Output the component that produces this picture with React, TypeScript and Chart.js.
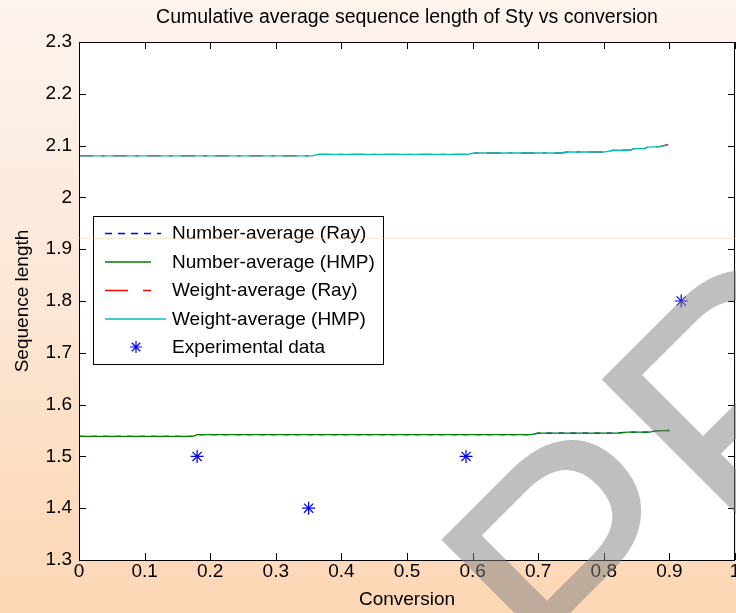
import React, { useEffect, useRef } from "react";
import { Chart, registerables } from "chart.js";

Chart.register(...registerables);

const TITLE = "Cumulative average sequence length of Sty vs conversion";
const X_LABEL = "Conversion";
const Y_LABEL = "Sequence length";

// Number-average curves (Ray / HMP)
const numConv = [0, 0.174, 0.18, 0.689, 0.7, 0.82, 0.836, 0.87, 0.879, 0.9];
const numRay = [1.5386, 1.5386, 1.5419, 1.5419, 1.545, 1.545, 1.547, 1.547, 1.5494, 1.55];
const numHMP = [1.5386, 1.5386, 1.5419, 1.5419, 1.545, 1.545, 1.547, 1.547, 1.5494, 1.55];

// Weight-average curves (Ray / HMP)
const wConv = [0, 0.355, 0.365, 0.592, 0.602, 0.735, 0.745, 0.8, 0.815, 0.84, 0.846, 0.862, 0.867, 0.885, 0.898];
const wRay = [2.08, 2.08, 2.083, 2.083, 2.0857, 2.0857, 2.0876, 2.0876, 2.091, 2.091, 2.094, 2.094, 2.097, 2.098, 2.1025];
const wHMP = [2.08, 2.08, 2.083, 2.083, 2.0857, 2.0857, 2.0876, 2.0876, 2.091, 2.091, 2.094, 2.094, 2.097, 2.098, 2.101];

// Experimental data
const expConv = [0.18, 0.35, 0.59, 0.918];
const expLen = [1.5, 1.4, 1.5, 1.8];

const X_MIN = 0;
const X_MAX = 1;
const Y_MIN = 1.3;
const Y_MAX = 2.3;
const TICK_STEP = 0.1;

const FONT = "'Liberation Sans', Arial, Helvetica, sans-serif";

const pts = (xs: number[], ys: number[]) => xs.map((x, i) => ({ x, y: ys[i] }));

const fmt = (v: number) => String(Number(Number(v).toFixed(1)));

const bgPlugin = {
  id: "bgPlugin",
  beforeDraw(chart: any) {
    const { ctx, width, height, chartArea } = chart;
    ctx.save();
    const g = ctx.createLinearGradient(0, 0, 0, height);
    g.addColorStop(0, "#fdf4ee");
    g.addColorStop(0.45, "#fce8d8");
    g.addColorStop(0.85, "#fcdbbd");
    g.addColorStop(1, "#fcd7b5");
    ctx.fillStyle = g;
    ctx.fillRect(0, 0, width, height);
    ctx.fillStyle = "#ffffff";
    ctx.fillRect(chartArea.left, chartArea.top, chartArea.right - chartArea.left, chartArea.bottom - chartArea.top);
    ctx.restore();
  },
};

const frameLegendPlugin = {
  id: "frameLegendPlugin",
  afterDraw(chart: any) {
    const { ctx, chartArea } = chart;
    const xs = chart.scales.x;
    const ys = chart.scales.y;
    const L = chartArea.left, R = chartArea.right, T = chartArea.top, B = chartArea.bottom;
    const tl = 7;
    ctx.save();

    // ticks
    ctx.strokeStyle = "#000000";
    ctx.lineWidth = 1;
    ctx.beginPath();
    xs.ticks.forEach((t: any) => {
      const px = Math.round(xs.getPixelForValue(t.value)) + 0.5;
      ctx.moveTo(px, B);
      ctx.lineTo(px, B - tl);
      ctx.moveTo(px, T);
      ctx.lineTo(px, T + tl);
    });
    ys.ticks.forEach((t: any) => {
      const py = Math.round(ys.getPixelForValue(t.value)) + 0.5;
      ctx.moveTo(L, py);
      ctx.lineTo(L + tl, py);
      ctx.moveTo(R, py);
      ctx.lineTo(R - tl, py);
    });
    ctx.stroke();
    // box
    ctx.strokeRect(L + 0.5, T + 0.5, R - L - 1, B - T);

    // legend
    const bx = 93.5, by = 216.5, bw = 290, bh = 148;
    ctx.fillStyle = "#ffffff";
    ctx.fillRect(bx, by, bw, bh);
    ctx.strokeStyle = "#000000";
    ctx.strokeRect(bx, by, bw, bh);
    const lens = [56, 46, 46, 61, 0];
    ctx.font = `19px ${FONT}`;
    ctx.textBaseline = "middle";
    ctx.textAlign = "left";
    chart.data.datasets.forEach((ds: any, i: number) => {
      const cy = 233 + i * 28.5;
      if (ds.showLine === false) {
        const r = 6;
        const cx = 136;
        ctx.strokeStyle = ds.pointBorderColor;
        ctx.lineWidth = 1.2;
        ctx.beginPath();
        ctx.moveTo(cx - r, cy); ctx.lineTo(cx + r, cy);
        ctx.moveTo(cx, cy - r); ctx.lineTo(cx, cy + r);
        const d = r * 0.7071;
        ctx.moveTo(cx - d, cy - d); ctx.lineTo(cx + d, cy + d);
        ctx.moveTo(cx - d, cy + d); ctx.lineTo(cx + d, cy - d);
        ctx.stroke();
      } else {
        ctx.strokeStyle = ds.borderColor;
        ctx.lineWidth = 1.3;
        ctx.setLineDash(ds.legendDash || []);
        ctx.beginPath();
        ctx.moveTo(105, cy + 0.5);
        ctx.lineTo(105 + lens[i], cy + 0.5);
        ctx.stroke();
        ctx.setLineDash([]);
      }
      ctx.fillStyle = "#000000";
      ctx.fillText(ds.label, 172, cy + 1);
    });

    // faint overlay line (slide artefact, above everything in the plot)
    const yo = Math.round(ys.getPixelForValue(1.9215)) + 0.5;
    ctx.strokeStyle = "rgba(252,205,165,0.45)";
    ctx.lineWidth = 1;
    ctx.beginPath();
    ctx.moveTo(L, yo);
    ctx.lineTo(R, yo);
    ctx.stroke();
    ctx.restore();

    // watermark
    ctx.save();
    ctx.translate(587, 725);
    ctx.rotate(-Math.PI / 4);
    ctx.font = `340px ${FONT}`;
    ctx.fillStyle = "rgba(128,128,128,0.5)";
    ctx.textBaseline = "alphabetic";
    ctx.textAlign = "left";
    ctx.fillText("PR", 0, 0);
    ctx.restore();
  },
};

export default function App() {
  const ref = useRef<HTMLCanvasElement>(null);
  useEffect(() => {
    document.body.style.margin = "0";
    const canvas = ref.current;
    if (!canvas) return;
    const chart = new Chart(canvas, {
      type: "line",
      data: {
        datasets: [
          {
            label: "Number-average (Ray)",
            data: pts(numConv, numRay),
            borderColor: "#0000ff",
            borderDash: [6, 6],
            legendDash: [7, 6],
            borderWidth: 1.3,
            pointRadius: 0,
            order: 4,
          } as any,
          {
            label: "Number-average (HMP)",
            data: pts(numConv, numHMP),
            borderColor: "#008000",
            borderWidth: 1.3,
            pointRadius: 0,
            order: 3,
          },
          {
            label: "Weight-average (Ray)",
            data: pts(wConv, wRay),
            borderColor: "#ff0000",
            borderDash: [14, 8, 4, 8],
            legendDash: [23, 15, 8, 15],
            borderWidth: 1.3,
            pointRadius: 0,
            order: 2,
          },
          {
            label: "Weight-average (HMP)",
            data: pts(wConv, wHMP),
            borderColor: "#00bfbf",
            borderWidth: 1.3,
            pointRadius: 0,
            order: 1,
          },
          {
            label: "Experimental data",
            data: pts(expConv, expLen),
            showLine: false,
            borderColor: "#0000ff",
            pointStyle: "star",
            pointRadius: 6.5,
            pointBorderColor: "#0000ff",
            pointBackgroundColor: "#0000ff",
            pointBorderWidth: 1.2,
            order: 0,
          },
        ],
      },
      options: {
        responsive: false,
        animation: false,
        devicePixelRatio: 1,
        layout: { autoPadding: false, padding: { top: 0, left: 0, right: 1, bottom: 0 } },
        plugins: {
          legend: { display: false },
          tooltip: { enabled: false },
          title: {
            display: true,
            text: TITLE,
            fullSize: false,
            color: "#000000",
            font: { family: FONT, size: 19.5, weight: "normal" },
            padding: { top: 6.3, bottom: 12.3 },
          },
        },
        scales: {
          x: {
            type: "linear",
            min: X_MIN,
            max: X_MAX,
            grid: { display: false, drawTicks: false },
            border: { display: false },
            ticks: {
              stepSize: TICK_STEP,
              autoSkip: false,
              maxRotation: 0,
              padding: 0.6,
              color: "#000000",
              font: { family: FONT, size: 19 },
              callback: (v: any) => fmt(v),
            },
            title: {
              display: true,
              text: X_LABEL,
              color: "#000000",
              font: { family: FONT, size: 19 },
              padding: { top: 0, bottom: 1.6 },
            },
            afterFit: (s: any) => {
              s.height = 53;
              s.paddingLeft = 0;
              s.paddingRight = 0;
            },
          },
          y: {
            type: "linear",
            min: Y_MIN,
            max: Y_MAX,
            grid: { display: false, drawTicks: false },
            border: { display: false },
            ticks: {
              stepSize: TICK_STEP,
              autoSkip: false,
              padding: 7,
              color: "#000000",
              font: { family: FONT, size: 19 },
              callback: (v: any) => fmt(v),
            },
            title: {
              display: true,
              text: Y_LABEL,
              color: "#000000",
              font: { family: FONT, size: 19 },
              padding: { top: 11.6, bottom: 0 },
            },
            afterFit: (s: any) => {
              s.width = 79;
              s.paddingTop = 0;
              s.paddingBottom = 0;
            },
          },
        },
      } as any,
      plugins: [bgPlugin, frameLegendPlugin],
    });
    return () => chart.destroy();
  }, []);
  return (
    <canvas
      ref={ref}
      width={736}
      height={613}
      style={{ display: "block", width: "736px", height: "613px" }}
    />
  );
}
